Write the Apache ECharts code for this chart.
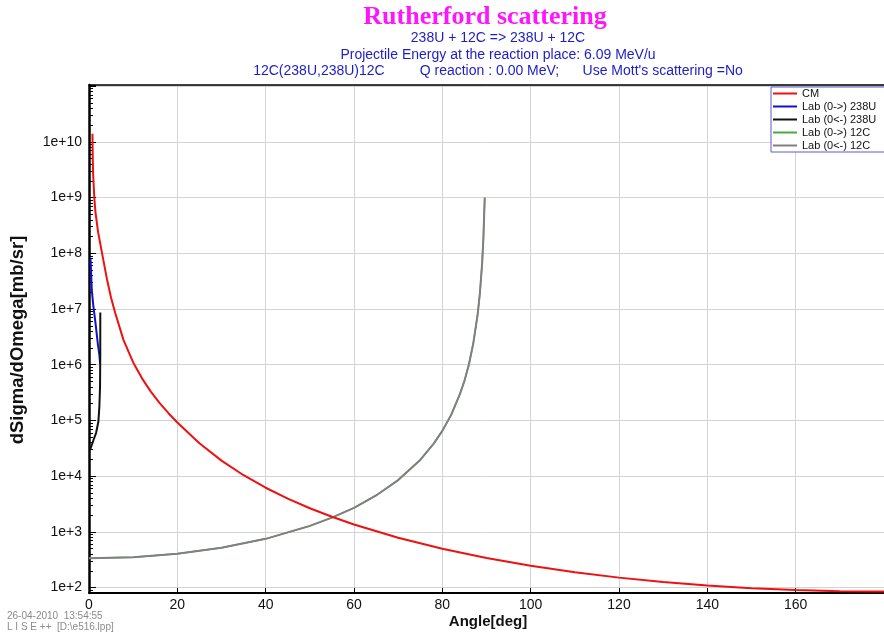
<!DOCTYPE html>
<html><head><meta charset="utf-8">
<script src="https://cdn.jsdelivr.net/npm/echarts@6/dist/echarts.min.js"></script>
<style>html,body{margin:0;padding:0;background:#fff}#c{width:884px;height:637px}</style>
</head><body><div id="c"></div>
<script>
// ---- data ----
const seriesNames = ['CM', 'Lab (0->) 238U', 'Lab (0<-) 238U', 'Lab (0->) 12C', 'Lab (0<-) 12C'];
const seriesColors = ['#ee1111', '#1111cc', '#111111', '#44aa44', '#808080'];

const cmAngle = [0.78, 0.85, 0.94, 1.2, 1.46, 2.06, 2.96, 4.08, 5.0, 5.94, 7.8, 10, 12, 14, 16, 18, 20, 25, 30, 35, 40, 45, 50, 55, 60, 70, 80, 90, 100, 110, 120, 130, 140, 150, 160, 170, 180];
const cmValue = [1.4e10, 5e9, 2.6e9, 1.0e9, 5.5e8, 2.4e8, 1.0e8, 3.4e7, 1.6e7, 8.5e6, 2.8e6, 1.1e6, 5.7e5, 3.3e5, 2.05e5, 1.35e5, 9.2e4, 3.9e4, 1.9e4, 1.04e4, 6.2e3, 3.95e3, 2.66e3, 1.87e3, 1.36e3, 785, 498, 340, 247, 189, 151, 126, 109, 97.6, 90.4, 86.3, 85];

const labU238FwdAngle = [0.34, 0.45, 0.63, 1.0, 1.46, 2.02, 2.35, 2.51];
const labU238FwdValue = [8.1e7, 5e7, 2.2e7, 1.1e7, 5.7e6, 2.3e6, 1.5e6, 1.05e6];

const labU238BwdAngle = [0.34, 0.49, 1.08, 1.61, 2.13, 2.35, 2.5, 2.55, 2.56];
const labU238BwdValue = [3.1e4, 3.2e4, 4.6e4, 6.0e4, 9.6e4, 1.8e5, 4e5, 1.5e6, 8.7e6];

const lab12CAngle = [0, 10, 20, 30, 40, 50, 55, 60, 65, 70, 75, 78, 80, 82, 84, 85, 86, 87, 88, 88.5, 89, 89.3, 89.6];
const lab12CFwdValue = [335, 350, 405, 520, 750, 1280, 1800, 2700, 4500, 8500, 1.96e4, 3.8e4, 6.5e4, 1.26e5, 3.0e5, 5.1e5, 1.0e6, 2.4e6, 8.0e6, 1.9e7, 6.4e7, 1.9e8, 1.0e9];
const lab12CBwdValue = [335, 350, 405, 520, 750, 1280, 1800, 2700, 4500, 8500, 1.96e4, 3.8e4, 6.5e4, 1.26e5, 3.0e5, 5.1e5, 1.0e6, 2.4e6, 8.0e6, 1.9e7, 6.4e7, 1.9e8, 1.0e9];

const xTickLabels = ['0', '20', '40', '60', '80', '100', '120', '140', '160'];
const yTickExponents = [2, 3, 4, 5, 6, 7, 8, 9, 10];
const xMin = 0, xMax = 180, xStep = 20;
const yMin = 80, yMax = 1.05e11;

const titleText = 'Rutherford scattering';
const subLines = [
  '238U + 12C => 238U + 12C',
  'Projectile Energy at the reaction place: 6.09 MeV/u',
  '12C(238U,238U)12C         Q reaction : 0.00 MeV;      Use Mott\'s scattering =No'
];
const yName = 'dSigma/dOmega[mb/sr]';
const xName = 'Angle[deg]';
const footLines = ['26-04-2010  13:54:55', 'L I S E ++  [D:\\e516.lpp]'];

// ---- build ----
function zip(a, b) { return a.map((x, i) => [x, b[i]]); }
const seriesData = [
  zip(cmAngle, cmValue),
  zip(labU238FwdAngle, labU238FwdValue),
  zip(labU238BwdAngle, labU238BwdValue),
  zip(lab12CAngle, lab12CFwdValue),
  zip(lab12CAngle, lab12CBwdValue)
];
const minorVals = [];
for (let e = 1; e <= 10; e++) for (let m = 2; m <= 9; m++) {
  const v = m * Math.pow(10, e);
  if (v >= yMin && v <= yMax) minorVals.push(v);
}
const seriesWidths = [2, 2, 2, 1.5, 2];
const font = 'Liberation Sans, Arial, Helvetica, sans-serif';
const chart = echarts.init(document.getElementById('c'), null, { renderer: 'canvas' });
const option = {
  animation: false,
  backgroundColor: '#ffffff',
  grid: { left: 89, right: -7, top: 85, bottom: 44, containLabel: false },
  legend: {
    orient: 'vertical', left: 771, top: 87,
    padding: [0, 40, 0, 2], itemGap: 0,
    itemWidth: 24, itemHeight: 2,
    backgroundColor: '#ffffff', borderColor: '#5a5ad2', borderWidth: 1,
    textStyle: { fontFamily: font, fontSize: 11, color: '#111', lineHeight: 13 },
    data: seriesNames.map((n, i) => ({ name: n, icon: 'rect', itemStyle: { color: seriesColors[i] } }))
  },
  xAxis: [{
    type: 'value', min: xMin, max: xMax, interval: xStep, position: 'bottom',
    axisLine: { show: true, onZero: false, lineStyle: { color: '#000', width: 2 } },
    axisTick: { show: true, inside: true, length: 5, lineStyle: { color: '#000' } },
    axisLabel: { margin: 5, fontFamily: font, fontSize: 14, color: '#111', showMaxLabel: false,
      formatter: v => { const i = Math.round((v - xMin) / xStep); return xTickLabels[i] !== undefined ? xTickLabels[i] : ''; } },
    splitLine: { show: true, lineStyle: { color: '#d4d4d4', width: 1 } }
  }, {
    type: 'value', min: xMin, max: xMax, position: 'top',
    axisLine: { show: true, onZero: false, lineStyle: { color: '#000', width: 1.5 } },
    axisTick: { show: false }, axisLabel: { show: false }, splitLine: { show: false }
  }],
  yAxis: [{
    type: 'log', min: yMin, max: yMax, logBase: 10, position: 'left',
    axisLine: { show: true, onZero: false, lineStyle: { color: '#000', width: 2.5 } },
    axisTick: { show: true, inside: true, length: 7, lineStyle: { color: '#000' } },
    axisLabel: { margin: 7, fontFamily: font, fontSize: 14, color: '#111',
      formatter: v => { const e = Math.log10(v); const r = Math.round(e);
        return (Math.abs(e - r) < 1e-6 && yTickExponents.indexOf(r) >= 0) ? '1e+' + r : ''; } },
    splitLine: { show: true, lineStyle: { color: '#d4d4d4', width: 1 } }
  }, {
    type: 'log', min: yMin, max: yMax, logBase: 10, position: 'left',
    axisLine: { show: false },
    axisTick: { show: true, inside: true, length: 4, customValues: minorVals, lineStyle: { color: '#000' } },
    axisLabel: { show: false }, splitLine: { show: false }
  }],
  series: seriesData.map((d, i) => ({
    name: seriesNames[i], type: 'line', data: d, showSymbol: false, symbol: 'none',
    xAxisIndex: 0, yAxisIndex: 0, clip: true, smooth: false,
    lineStyle: { color: seriesColors[i], width: seriesWidths[i] }, itemStyle: { color: seriesColors[i] },
    z: i === 0 ? 3 : 2
  })),
  graphic: [
    { type: 'text', x: 485, y: 17, style: { text: titleText, fill: '#ff14ff', font: 'bold 26px "Liberation Serif", "Times New Roman", serif', align: 'center', verticalAlign: 'middle' } },
    ...subLines.map((t, i) => ({ type: 'text', x: 498, y: 38.5 + i * 16.5, style: { text: t, fill: '#1c1cc8', font: '14px ' + font, align: 'center', verticalAlign: 'middle' } })),
    { type: 'text', x: 18, y: 340, rotation: Math.PI / 2, style: { text: yName, fill: '#111', font: 'bold 18.5px ' + font, align: 'center', verticalAlign: 'middle' } },
    { type: 'text', x: 488, y: 622, style: { text: xName, fill: '#111', font: 'bold 15px ' + font, align: 'center', verticalAlign: 'middle' } },
    ...footLines.map((t, i) => ({ type: 'text', x: 7, y: 616 + i * 11.5, style: { text: t, fill: '#8a8a8a', font: '10px ' + font, align: 'left', verticalAlign: 'middle' } }))
  ]
};
chart.setOption(option);
</script>
</body></html>
